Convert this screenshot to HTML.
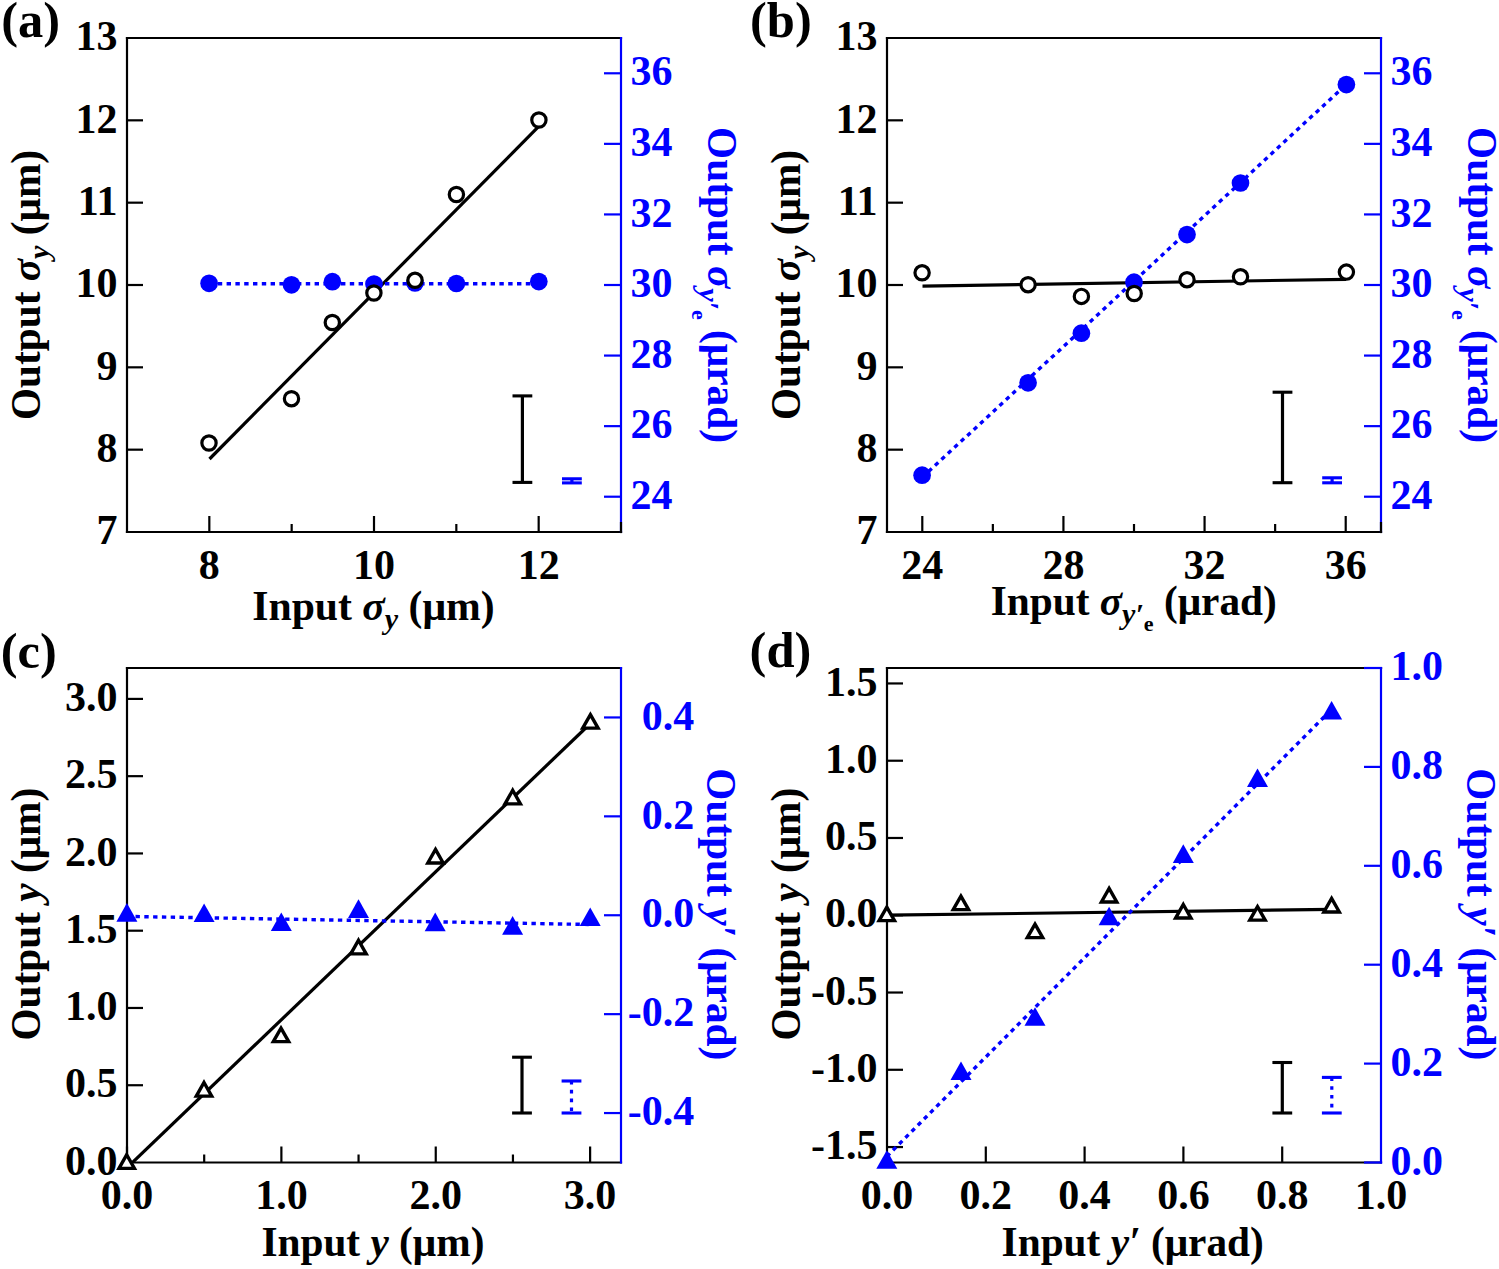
<!DOCTYPE html>
<html><head><meta charset="utf-8"><style>
html,body{margin:0;padding:0;background:#fff;overflow:hidden;}
svg{display:block;}
text{font-family:"Liberation Serif",serif;font-weight:bold;}
</style></head><body>
<svg width="1499" height="1269" viewBox="0 0 1499 1269">
<rect width="1499" height="1269" fill="#fff"/>
<line x1="209.33" y1="532" x2="209.33" y2="516" stroke="#000" stroke-width="2.2" />
<line x1="374" y1="532" x2="374" y2="516" stroke="#000" stroke-width="2.2" />
<line x1="538.67" y1="532" x2="538.67" y2="516" stroke="#000" stroke-width="2.2" />
<line x1="291.67" y1="532" x2="291.67" y2="524" stroke="#000" stroke-width="2.2" />
<line x1="456.33" y1="532" x2="456.33" y2="524" stroke="#000" stroke-width="2.2" />
<line x1="127" y1="449.67" x2="143" y2="449.67" stroke="#000" stroke-width="2.2" />
<line x1="127" y1="367.33" x2="143" y2="367.33" stroke="#000" stroke-width="2.2" />
<line x1="127" y1="285" x2="143" y2="285" stroke="#000" stroke-width="2.2" />
<line x1="127" y1="202.67" x2="143" y2="202.67" stroke="#000" stroke-width="2.2" />
<line x1="127" y1="120.33" x2="143" y2="120.33" stroke="#000" stroke-width="2.2" />
<line x1="621" y1="496.71" x2="604" y2="496.71" stroke="#0000ff" stroke-width="2.2" />
<line x1="621" y1="426.14" x2="604" y2="426.14" stroke="#0000ff" stroke-width="2.2" />
<line x1="621" y1="355.57" x2="604" y2="355.57" stroke="#0000ff" stroke-width="2.2" />
<line x1="621" y1="285" x2="604" y2="285" stroke="#0000ff" stroke-width="2.2" />
<line x1="621" y1="214.43" x2="604" y2="214.43" stroke="#0000ff" stroke-width="2.2" />
<line x1="621" y1="143.86" x2="604" y2="143.86" stroke="#0000ff" stroke-width="2.2" />
<line x1="621" y1="73.29" x2="604" y2="73.29" stroke="#0000ff" stroke-width="2.2" />
<line x1="125.9" y1="38" x2="622.1" y2="38" stroke="#000" stroke-width="2.2" />
<line x1="125.9" y1="532" x2="622.1" y2="532" stroke="#000" stroke-width="2.2" />
<line x1="127" y1="36.9" x2="127" y2="533.1" stroke="#000" stroke-width="2.2" />
<line x1="621" y1="36.9" x2="621" y2="533.1" stroke="#0000ff" stroke-width="2.2" />
<line x1="621" y1="522" x2="621" y2="533.1" stroke="#000" stroke-width="2.2" />
<text x="209.33" y="578.5" text-anchor="middle" font-size="42" fill="#000" >8</text>
<text x="374" y="578.5" text-anchor="middle" font-size="42" fill="#000" >10</text>
<text x="538.67" y="578.5" text-anchor="middle" font-size="42" fill="#000" >12</text>
<text x="117.4" y="544.2" text-anchor="end" font-size="42" fill="#000" >7</text>
<text x="117.4" y="461.87" text-anchor="end" font-size="42" fill="#000" >8</text>
<text x="117.4" y="379.53" text-anchor="end" font-size="42" fill="#000" >9</text>
<text x="117.4" y="297.2" text-anchor="end" font-size="42" fill="#000" >10</text>
<text x="117.4" y="214.87" text-anchor="end" font-size="42" fill="#000" >11</text>
<text x="117.4" y="132.53" text-anchor="end" font-size="42" fill="#000" >12</text>
<text x="117.4" y="50.2" text-anchor="end" font-size="42" fill="#000" >13</text>
<text x="630.5" y="508.91" text-anchor="start" font-size="42" fill="#0000ff" >24</text>
<text x="630.5" y="438.34" text-anchor="start" font-size="42" fill="#0000ff" >26</text>
<text x="630.5" y="367.77" text-anchor="start" font-size="42" fill="#0000ff" >28</text>
<text x="630.5" y="297.2" text-anchor="start" font-size="42" fill="#0000ff" >30</text>
<text x="630.5" y="226.63" text-anchor="start" font-size="42" fill="#0000ff" >32</text>
<text x="630.5" y="156.06" text-anchor="start" font-size="42" fill="#0000ff" >34</text>
<text x="630.5" y="85.49" text-anchor="start" font-size="42" fill="#0000ff" >36</text>
<line x1="209.5" y1="459" x2="538" y2="127.2" stroke="#000" stroke-width="3.2" stroke-linecap="butt"/>
<line x1="209" y1="283.8" x2="539" y2="283.8" stroke="#0000ff" stroke-width="3.4" stroke-dasharray="4.4 4.4"/>
<circle cx="209.1" cy="283.3" r="8.85" fill="#0000ff"/>
<circle cx="291.5" cy="284.8" r="8.85" fill="#0000ff"/>
<circle cx="332.4" cy="281.7" r="8.85" fill="#0000ff"/>
<circle cx="374" cy="284" r="8.85" fill="#0000ff"/>
<circle cx="415" cy="283" r="8.85" fill="#0000ff"/>
<circle cx="456.4" cy="283.5" r="8.85" fill="#0000ff"/>
<circle cx="538.8" cy="281.6" r="8.85" fill="#0000ff"/>
<circle cx="209" cy="443" r="7.15" fill="#fff" stroke="#000" stroke-width="3.2"/>
<circle cx="291.5" cy="398.7" r="7.15" fill="#fff" stroke="#000" stroke-width="3.2"/>
<circle cx="332.3" cy="322.5" r="7.15" fill="#fff" stroke="#000" stroke-width="3.2"/>
<circle cx="373.9" cy="293" r="7.15" fill="#fff" stroke="#000" stroke-width="3.2"/>
<circle cx="415" cy="280.3" r="7.15" fill="#fff" stroke="#000" stroke-width="3.2"/>
<circle cx="456.4" cy="194.5" r="7.15" fill="#fff" stroke="#000" stroke-width="3.2"/>
<circle cx="538.9" cy="120" r="7.15" fill="#fff" stroke="#000" stroke-width="3.2"/>
<line x1="522.4" y1="395.9" x2="522.4" y2="482.4" stroke="#000" stroke-width="3.2" />
<line x1="512.5" y1="395.9" x2="532.3" y2="395.9" stroke="#000" stroke-width="3.1" />
<line x1="512.5" y1="482.4" x2="532.3" y2="482.4" stroke="#000" stroke-width="3.1" />
<line x1="571.9" y1="478.8" x2="571.9" y2="482.9" stroke="#0000ff" stroke-width="3.2" />
<line x1="562" y1="478.8" x2="581.8" y2="478.8" stroke="#0000ff" stroke-width="3.1" />
<line x1="562" y1="482.9" x2="581.8" y2="482.9" stroke="#0000ff" stroke-width="3.1" />
<line x1="922.29" y1="532" x2="922.29" y2="516" stroke="#000" stroke-width="2.2" />
<line x1="1063.43" y1="532" x2="1063.43" y2="516" stroke="#000" stroke-width="2.2" />
<line x1="1204.57" y1="532" x2="1204.57" y2="516" stroke="#000" stroke-width="2.2" />
<line x1="1345.71" y1="532" x2="1345.71" y2="516" stroke="#000" stroke-width="2.2" />
<line x1="992.86" y1="532" x2="992.86" y2="524" stroke="#000" stroke-width="2.2" />
<line x1="1134" y1="532" x2="1134" y2="524" stroke="#000" stroke-width="2.2" />
<line x1="1275.14" y1="532" x2="1275.14" y2="524" stroke="#000" stroke-width="2.2" />
<line x1="887" y1="449.67" x2="903" y2="449.67" stroke="#000" stroke-width="2.2" />
<line x1="887" y1="367.33" x2="903" y2="367.33" stroke="#000" stroke-width="2.2" />
<line x1="887" y1="285" x2="903" y2="285" stroke="#000" stroke-width="2.2" />
<line x1="887" y1="202.67" x2="903" y2="202.67" stroke="#000" stroke-width="2.2" />
<line x1="887" y1="120.33" x2="903" y2="120.33" stroke="#000" stroke-width="2.2" />
<line x1="1381" y1="496.71" x2="1364" y2="496.71" stroke="#0000ff" stroke-width="2.2" />
<line x1="1381" y1="426.14" x2="1364" y2="426.14" stroke="#0000ff" stroke-width="2.2" />
<line x1="1381" y1="355.57" x2="1364" y2="355.57" stroke="#0000ff" stroke-width="2.2" />
<line x1="1381" y1="285" x2="1364" y2="285" stroke="#0000ff" stroke-width="2.2" />
<line x1="1381" y1="214.43" x2="1364" y2="214.43" stroke="#0000ff" stroke-width="2.2" />
<line x1="1381" y1="143.86" x2="1364" y2="143.86" stroke="#0000ff" stroke-width="2.2" />
<line x1="1381" y1="73.29" x2="1364" y2="73.29" stroke="#0000ff" stroke-width="2.2" />
<line x1="885.9" y1="38" x2="1382.1" y2="38" stroke="#000" stroke-width="2.2" />
<line x1="885.9" y1="532" x2="1382.1" y2="532" stroke="#000" stroke-width="2.2" />
<line x1="887" y1="36.9" x2="887" y2="533.1" stroke="#000" stroke-width="2.2" />
<line x1="1381" y1="36.9" x2="1381" y2="533.1" stroke="#0000ff" stroke-width="2.2" />
<line x1="1381" y1="522" x2="1381" y2="533.1" stroke="#000" stroke-width="2.2" />
<text x="922.29" y="578.5" text-anchor="middle" font-size="42" fill="#000" >24</text>
<text x="1063.43" y="578.5" text-anchor="middle" font-size="42" fill="#000" >28</text>
<text x="1204.57" y="578.5" text-anchor="middle" font-size="42" fill="#000" >32</text>
<text x="1345.71" y="578.5" text-anchor="middle" font-size="42" fill="#000" >36</text>
<text x="877.4" y="544.2" text-anchor="end" font-size="42" fill="#000" >7</text>
<text x="877.4" y="461.87" text-anchor="end" font-size="42" fill="#000" >8</text>
<text x="877.4" y="379.53" text-anchor="end" font-size="42" fill="#000" >9</text>
<text x="877.4" y="297.2" text-anchor="end" font-size="42" fill="#000" >10</text>
<text x="877.4" y="214.87" text-anchor="end" font-size="42" fill="#000" >11</text>
<text x="877.4" y="132.53" text-anchor="end" font-size="42" fill="#000" >12</text>
<text x="877.4" y="50.2" text-anchor="end" font-size="42" fill="#000" >13</text>
<text x="1390.5" y="508.91" text-anchor="start" font-size="42" fill="#0000ff" >24</text>
<text x="1390.5" y="438.34" text-anchor="start" font-size="42" fill="#0000ff" >26</text>
<text x="1390.5" y="367.77" text-anchor="start" font-size="42" fill="#0000ff" >28</text>
<text x="1390.5" y="297.2" text-anchor="start" font-size="42" fill="#0000ff" >30</text>
<text x="1390.5" y="226.63" text-anchor="start" font-size="42" fill="#0000ff" >32</text>
<text x="1390.5" y="156.06" text-anchor="start" font-size="42" fill="#0000ff" >34</text>
<text x="1390.5" y="85.49" text-anchor="start" font-size="42" fill="#0000ff" >36</text>
<line x1="922.5" y1="286.1" x2="1346" y2="279.3" stroke="#000" stroke-width="3.2" stroke-linecap="butt"/>
<line x1="922.1" y1="477.5" x2="1346.4" y2="84.3" stroke="#0000ff" stroke-width="3.4" stroke-dasharray="4.4 4.4"/>
<circle cx="922.1" cy="475.2" r="8.85" fill="#0000ff"/>
<circle cx="1028.1" cy="382.8" r="8.85" fill="#0000ff"/>
<circle cx="1081.4" cy="333.2" r="8.85" fill="#0000ff"/>
<circle cx="1134" cy="282.2" r="8.85" fill="#0000ff"/>
<circle cx="1187" cy="234.6" r="8.85" fill="#0000ff"/>
<circle cx="1240.5" cy="183" r="8.85" fill="#0000ff"/>
<circle cx="1346.4" cy="84.6" r="8.85" fill="#0000ff"/>
<circle cx="922.1" cy="272.8" r="7.15" fill="#fff" stroke="#000" stroke-width="3.2"/>
<circle cx="1028.1" cy="284.7" r="7.15" fill="#fff" stroke="#000" stroke-width="3.2"/>
<circle cx="1081.4" cy="296.4" r="7.15" fill="#fff" stroke="#000" stroke-width="3.2"/>
<circle cx="1134.2" cy="293.5" r="7.15" fill="#fff" stroke="#000" stroke-width="3.2"/>
<circle cx="1187" cy="279.7" r="7.15" fill="#fff" stroke="#000" stroke-width="3.2"/>
<circle cx="1240.5" cy="276.8" r="7.15" fill="#fff" stroke="#000" stroke-width="3.2"/>
<circle cx="1346.4" cy="272.1" r="7.15" fill="#fff" stroke="#000" stroke-width="3.2"/>
<line x1="1282.5" y1="392.2" x2="1282.5" y2="482.7" stroke="#000" stroke-width="3.2" />
<line x1="1272.6" y1="392.2" x2="1292.4" y2="392.2" stroke="#000" stroke-width="3.1" />
<line x1="1272.6" y1="482.7" x2="1292.4" y2="482.7" stroke="#000" stroke-width="3.1" />
<line x1="1332.1" y1="477.8" x2="1332.1" y2="482.8" stroke="#0000ff" stroke-width="3.2" />
<line x1="1322.2" y1="477.8" x2="1342" y2="477.8" stroke="#0000ff" stroke-width="3.1" />
<line x1="1322.2" y1="482.8" x2="1342" y2="482.8" stroke="#0000ff" stroke-width="3.1" />
<line x1="127" y1="1162.5" x2="127" y2="1146.5" stroke="#000" stroke-width="2.2" />
<line x1="281.38" y1="1162.5" x2="281.38" y2="1146.5" stroke="#000" stroke-width="2.2" />
<line x1="435.75" y1="1162.5" x2="435.75" y2="1146.5" stroke="#000" stroke-width="2.2" />
<line x1="590.12" y1="1162.5" x2="590.12" y2="1146.5" stroke="#000" stroke-width="2.2" />
<line x1="204.19" y1="1162.5" x2="204.19" y2="1154.5" stroke="#000" stroke-width="2.2" />
<line x1="358.56" y1="1162.5" x2="358.56" y2="1154.5" stroke="#000" stroke-width="2.2" />
<line x1="512.94" y1="1162.5" x2="512.94" y2="1154.5" stroke="#000" stroke-width="2.2" />
<line x1="127" y1="1085.23" x2="143" y2="1085.23" stroke="#000" stroke-width="2.2" />
<line x1="127" y1="1007.97" x2="143" y2="1007.97" stroke="#000" stroke-width="2.2" />
<line x1="127" y1="930.7" x2="143" y2="930.7" stroke="#000" stroke-width="2.2" />
<line x1="127" y1="853.44" x2="143" y2="853.44" stroke="#000" stroke-width="2.2" />
<line x1="127" y1="776.17" x2="143" y2="776.17" stroke="#000" stroke-width="2.2" />
<line x1="127" y1="698.91" x2="143" y2="698.91" stroke="#000" stroke-width="2.2" />
<line x1="621" y1="1113.05" x2="604" y2="1113.05" stroke="#0000ff" stroke-width="2.2" />
<line x1="621" y1="1014.15" x2="604" y2="1014.15" stroke="#0000ff" stroke-width="2.2" />
<line x1="621" y1="915.25" x2="604" y2="915.25" stroke="#0000ff" stroke-width="2.2" />
<line x1="621" y1="816.35" x2="604" y2="816.35" stroke="#0000ff" stroke-width="2.2" />
<line x1="621" y1="717.45" x2="604" y2="717.45" stroke="#0000ff" stroke-width="2.2" />
<line x1="125.9" y1="668" x2="622.1" y2="668" stroke="#000" stroke-width="2.2" />
<line x1="125.9" y1="1162.5" x2="622.1" y2="1162.5" stroke="#000" stroke-width="2.2" />
<line x1="127" y1="666.9" x2="127" y2="1163.6" stroke="#000" stroke-width="2.2" />
<line x1="621" y1="666.9" x2="621" y2="1163.6" stroke="#0000ff" stroke-width="2.2" />
<text x="127" y="1209" text-anchor="middle" font-size="42" fill="#000" >0.0</text>
<text x="281.38" y="1209" text-anchor="middle" font-size="42" fill="#000" >1.0</text>
<text x="435.75" y="1209" text-anchor="middle" font-size="42" fill="#000" >2.0</text>
<text x="590.12" y="1209" text-anchor="middle" font-size="42" fill="#000" >3.0</text>
<text x="117.4" y="1174.7" text-anchor="end" font-size="42" fill="#000" >0.0</text>
<text x="117.4" y="1097.43" text-anchor="end" font-size="42" fill="#000" >0.5</text>
<text x="117.4" y="1020.17" text-anchor="end" font-size="42" fill="#000" >1.0</text>
<text x="117.4" y="942.9" text-anchor="end" font-size="42" fill="#000" >1.5</text>
<text x="117.4" y="865.64" text-anchor="end" font-size="42" fill="#000" >2.0</text>
<text x="117.4" y="788.37" text-anchor="end" font-size="42" fill="#000" >2.5</text>
<text x="117.4" y="711.11" text-anchor="end" font-size="42" fill="#000" >3.0</text>
<text x="694.3" y="1125.25" text-anchor="end" font-size="42" fill="#0000ff" >-0.4</text>
<text x="694.3" y="1026.35" text-anchor="end" font-size="42" fill="#0000ff" >-0.2</text>
<text x="694.3" y="927.45" text-anchor="end" font-size="42" fill="#0000ff" >0.0</text>
<text x="694.3" y="828.55" text-anchor="end" font-size="42" fill="#0000ff" >0.2</text>
<text x="694.3" y="729.65" text-anchor="end" font-size="42" fill="#0000ff" >0.4</text>
<clipPath id="cc"><rect x="127" y="668" width="494" height="494.5"/></clipPath>
<g clip-path="url(#cc)">
<line x1="126.7" y1="1168" x2="590.4" y2="723.5" stroke="#000" stroke-width="3.2" stroke-linecap="butt"/>
</g>
<line x1="126.7" y1="916.4" x2="590.4" y2="924.5" stroke="#0000ff" stroke-width="3.4" stroke-dasharray="4.4 4.4"/>
<path d="M126.9 903.1L137.4 921.7L116.4 921.7Z" fill="#0000ff"/>
<path d="M204.1 903.5L214.6 922.1L193.6 922.1Z" fill="#0000ff"/>
<path d="M281.3 912.4L291.8 931L270.8 931Z" fill="#0000ff"/>
<path d="M358.5 899.3L369 917.9L348 917.9Z" fill="#0000ff"/>
<path d="M435.2 912.6L445.7 931.2L424.7 931.2Z" fill="#0000ff"/>
<path d="M512.6 916.1L523.1 934.7L502.1 934.7Z" fill="#0000ff"/>
<path d="M590.2 907.4L600.7 926L579.7 926Z" fill="#0000ff"/>
<path d="M126.7 1154.78L134.4 1168.38L119 1168.38Z" fill="#fff" stroke="#000" stroke-width="3.4" stroke-linejoin="miter" stroke-miterlimit="10"/>
<path d="M204 1082.48L211.7 1096.08L196.3 1096.08Z" fill="#fff" stroke="#000" stroke-width="3.4" stroke-linejoin="miter" stroke-miterlimit="10"/>
<path d="M281 1028.08L288.7 1041.67L273.3 1041.67Z" fill="#fff" stroke="#000" stroke-width="3.4" stroke-linejoin="miter" stroke-miterlimit="10"/>
<path d="M358.5 940.28L366.2 953.88L350.8 953.88Z" fill="#fff" stroke="#000" stroke-width="3.4" stroke-linejoin="miter" stroke-miterlimit="10"/>
<path d="M435.5 849.38L443.2 862.97L427.8 862.97Z" fill="#fff" stroke="#000" stroke-width="3.4" stroke-linejoin="miter" stroke-miterlimit="10"/>
<path d="M512.7 790.28L520.4 803.88L505 803.88Z" fill="#fff" stroke="#000" stroke-width="3.4" stroke-linejoin="miter" stroke-miterlimit="10"/>
<path d="M590.4 714.58L598.1 728.17L582.7 728.17Z" fill="#fff" stroke="#000" stroke-width="3.4" stroke-linejoin="miter" stroke-miterlimit="10"/>
<line x1="522" y1="1057.2" x2="522" y2="1113" stroke="#000" stroke-width="3.2" />
<line x1="512.1" y1="1057.2" x2="531.9" y2="1057.2" stroke="#000" stroke-width="3.1" />
<line x1="512.1" y1="1113" x2="531.9" y2="1113" stroke="#000" stroke-width="3.1" />
<line x1="571.5" y1="1081" x2="571.5" y2="1113" stroke="#0000ff" stroke-width="3.2" stroke-dasharray="3.6 5.2"/>
<line x1="561.6" y1="1081" x2="581.4" y2="1081" stroke="#0000ff" stroke-width="3.1" />
<line x1="561.6" y1="1113" x2="581.4" y2="1113" stroke="#0000ff" stroke-width="3.1" />
<line x1="985.8" y1="1162.5" x2="985.8" y2="1146.5" stroke="#000" stroke-width="2.2" />
<line x1="1084.6" y1="1162.5" x2="1084.6" y2="1146.5" stroke="#000" stroke-width="2.2" />
<line x1="1183.4" y1="1162.5" x2="1183.4" y2="1146.5" stroke="#000" stroke-width="2.2" />
<line x1="1282.2" y1="1162.5" x2="1282.2" y2="1146.5" stroke="#000" stroke-width="2.2" />
<line x1="887" y1="1147.05" x2="903" y2="1147.05" stroke="#000" stroke-width="2.2" />
<line x1="887" y1="1069.78" x2="903" y2="1069.78" stroke="#000" stroke-width="2.2" />
<line x1="887" y1="992.52" x2="903" y2="992.52" stroke="#000" stroke-width="2.2" />
<line x1="887" y1="915.25" x2="903" y2="915.25" stroke="#000" stroke-width="2.2" />
<line x1="887" y1="837.98" x2="903" y2="837.98" stroke="#000" stroke-width="2.2" />
<line x1="887" y1="760.72" x2="903" y2="760.72" stroke="#000" stroke-width="2.2" />
<line x1="887" y1="683.45" x2="903" y2="683.45" stroke="#000" stroke-width="2.2" />
<line x1="1381" y1="1063.6" x2="1364" y2="1063.6" stroke="#0000ff" stroke-width="2.2" />
<line x1="1381" y1="964.7" x2="1364" y2="964.7" stroke="#0000ff" stroke-width="2.2" />
<line x1="1381" y1="865.8" x2="1364" y2="865.8" stroke="#0000ff" stroke-width="2.2" />
<line x1="1381" y1="766.9" x2="1364" y2="766.9" stroke="#0000ff" stroke-width="2.2" />
<line x1="885.9" y1="668" x2="1382.1" y2="668" stroke="#000" stroke-width="2.2" />
<line x1="885.9" y1="1162.5" x2="1382.1" y2="1162.5" stroke="#000" stroke-width="2.2" />
<line x1="887" y1="666.9" x2="887" y2="1163.6" stroke="#000" stroke-width="2.2" />
<line x1="1381" y1="666.9" x2="1381" y2="1163.6" stroke="#0000ff" stroke-width="2.2" />
<line x1="1382.1" y1="1162.5" x2="1364" y2="1162.5" stroke="#0000ff" stroke-width="2.2" />
<line x1="1382.1" y1="668" x2="1364" y2="668" stroke="#0000ff" stroke-width="2.2" />
<text x="887" y="1209" text-anchor="middle" font-size="42" fill="#000" >0.0</text>
<text x="985.8" y="1209" text-anchor="middle" font-size="42" fill="#000" >0.2</text>
<text x="1084.6" y="1209" text-anchor="middle" font-size="42" fill="#000" >0.4</text>
<text x="1183.4" y="1209" text-anchor="middle" font-size="42" fill="#000" >0.6</text>
<text x="1282.2" y="1209" text-anchor="middle" font-size="42" fill="#000" >0.8</text>
<text x="1381" y="1209" text-anchor="middle" font-size="42" fill="#000" >1.0</text>
<text x="877.4" y="1159.25" text-anchor="end" font-size="42" fill="#000" >-1.5</text>
<text x="877.4" y="1081.98" text-anchor="end" font-size="42" fill="#000" >-1.0</text>
<text x="877.4" y="1004.72" text-anchor="end" font-size="42" fill="#000" >-0.5</text>
<text x="877.4" y="927.45" text-anchor="end" font-size="42" fill="#000" >0.0</text>
<text x="877.4" y="850.18" text-anchor="end" font-size="42" fill="#000" >0.5</text>
<text x="877.4" y="772.92" text-anchor="end" font-size="42" fill="#000" >1.0</text>
<text x="877.4" y="695.65" text-anchor="end" font-size="42" fill="#000" >1.5</text>
<text x="1390.5" y="1174.7" text-anchor="start" font-size="42" fill="#0000ff" >0.0</text>
<text x="1390.5" y="1075.8" text-anchor="start" font-size="42" fill="#0000ff" >0.2</text>
<text x="1390.5" y="976.9" text-anchor="start" font-size="42" fill="#0000ff" >0.4</text>
<text x="1390.5" y="878" text-anchor="start" font-size="42" fill="#0000ff" >0.6</text>
<text x="1390.5" y="779.1" text-anchor="start" font-size="42" fill="#0000ff" >0.8</text>
<text x="1390.5" y="680.2" text-anchor="start" font-size="42" fill="#0000ff" >1.0</text>
<line x1="886.8" y1="915.2" x2="1331.6" y2="909.4" stroke="#000" stroke-width="3.2" stroke-linecap="butt"/>
<line x1="886.8" y1="1156.5" x2="1331.6" y2="709.4" stroke="#0000ff" stroke-width="3.4" stroke-dasharray="4.4 4.4"/>
<path d="M886.8 1150.2L897.3 1168.8L876.3 1168.8Z" fill="#0000ff"/>
<path d="M961 1061.4L971.5 1080L950.5 1080Z" fill="#0000ff"/>
<path d="M1035 1007.2L1045.5 1025.8L1024.5 1025.8Z" fill="#0000ff"/>
<path d="M1109.1 906.7L1119.6 925.3L1098.6 925.3Z" fill="#0000ff"/>
<path d="M1183.3 844.3L1193.8 862.9L1172.8 862.9Z" fill="#0000ff"/>
<path d="M1257.5 768.5L1268 787.1L1247 787.1Z" fill="#0000ff"/>
<path d="M1331.6 701L1342.1 719.6L1321.1 719.6Z" fill="#0000ff"/>
<path d="M886.8 907.08L894.5 920.67L879.1 920.67Z" fill="#fff" stroke="#000" stroke-width="3.4" stroke-linejoin="miter" stroke-miterlimit="10"/>
<path d="M960.9 896.08L968.6 909.67L953.2 909.67Z" fill="#fff" stroke="#000" stroke-width="3.4" stroke-linejoin="miter" stroke-miterlimit="10"/>
<path d="M1035 924.08L1042.7 937.67L1027.3 937.67Z" fill="#fff" stroke="#000" stroke-width="3.4" stroke-linejoin="miter" stroke-miterlimit="10"/>
<path d="M1109.1 888.38L1116.8 901.97L1101.4 901.97Z" fill="#fff" stroke="#000" stroke-width="3.4" stroke-linejoin="miter" stroke-miterlimit="10"/>
<path d="M1183.3 904.48L1191 918.07L1175.6 918.07Z" fill="#fff" stroke="#000" stroke-width="3.4" stroke-linejoin="miter" stroke-miterlimit="10"/>
<path d="M1257.5 906.58L1265.2 920.17L1249.8 920.17Z" fill="#fff" stroke="#000" stroke-width="3.4" stroke-linejoin="miter" stroke-miterlimit="10"/>
<path d="M1331.6 898.38L1339.3 911.97L1323.9 911.97Z" fill="#fff" stroke="#000" stroke-width="3.4" stroke-linejoin="miter" stroke-miterlimit="10"/>
<line x1="1282.3" y1="1062.5" x2="1282.3" y2="1113" stroke="#000" stroke-width="3.2" />
<line x1="1272.4" y1="1062.5" x2="1292.2" y2="1062.5" stroke="#000" stroke-width="3.1" />
<line x1="1272.4" y1="1113" x2="1292.2" y2="1113" stroke="#000" stroke-width="3.1" />
<line x1="1331.8" y1="1077.4" x2="1331.8" y2="1113" stroke="#0000ff" stroke-width="3.2" stroke-dasharray="3.6 5.2"/>
<line x1="1321.9" y1="1077.4" x2="1341.7" y2="1077.4" stroke="#0000ff" stroke-width="3.1" />
<line x1="1321.9" y1="1113" x2="1341.7" y2="1113" stroke="#0000ff" stroke-width="3.1" />
<text x="1.2" y="36.5" text-anchor="start" font-size="50.5" fill="#000" >(a)</text>
<text x="750" y="36.5" text-anchor="start" font-size="50.5" fill="#000" >(b)</text>
<text x="0.7" y="667.6" text-anchor="start" font-size="50.5" fill="#000" >(c)</text>
<text x="749.6" y="667.2" text-anchor="start" font-size="50.5" fill="#000" >(d)</text>
<text x="373.5" y="619.7" text-anchor="middle" font-size="41.7" fill="#000" >Input <tspan font-style="italic">σ</tspan><tspan font-size="30" dy="9" font-style="italic">y</tspan><tspan dy="-9"> (μm)</tspan></text>
<text x="1133.8" y="615.2" text-anchor="middle" font-size="41.3" fill="#000" >Input <tspan font-style="italic">σ</tspan><tspan font-size="30" dy="9" font-style="italic">y′</tspan><tspan font-size="22" dy="7">e</tspan><tspan dy="-16"> (μrad)</tspan></text>
<text x="372.9" y="1256" text-anchor="middle" font-size="41.3" fill="#000" >Input <tspan font-style="italic">y</tspan> (μm)</text>
<text x="1132.7" y="1256" text-anchor="middle" font-size="41.3" fill="#000" >Input <tspan font-style="italic">y′</tspan> (μrad)</text>
<text x="0" y="0" text-anchor="middle" font-size="41.3" transform="translate(39.7,285) rotate(-90)">Output <tspan font-style="italic">σ</tspan><tspan font-size="30" dy="9" font-style="italic">y</tspan><tspan dy="-9"> (μm)</tspan></text>
<text x="0" y="0" text-anchor="middle" font-size="41.3" transform="translate(799.7,285) rotate(-90)">Output <tspan font-style="italic">σ</tspan><tspan font-size="30" dy="9" font-style="italic">y</tspan><tspan dy="-9"> (μm)</tspan></text>
<text x="0" y="0" text-anchor="middle" font-size="41.3" fill="#0000ff" transform="translate(708,285) rotate(90)">Output <tspan font-style="italic">σ</tspan><tspan font-size="30" dy="9" font-style="italic">y′</tspan><tspan font-size="22" dy="7">e</tspan><tspan dy="-16"> (μrad)</tspan></text>
<text x="0" y="0" text-anchor="middle" font-size="41.3" fill="#0000ff" transform="translate(1468,285) rotate(90)">Output <tspan font-style="italic">σ</tspan><tspan font-size="30" dy="9" font-style="italic">y′</tspan><tspan font-size="22" dy="7">e</tspan><tspan dy="-16"> (μrad)</tspan></text>
<text x="0" y="0" text-anchor="middle" font-size="41.3" transform="translate(39.7,914.15) rotate(-90)">Output <tspan font-style="italic">y</tspan> (μm)</text>
<text x="0" y="0" text-anchor="middle" font-size="41.3" transform="translate(799.7,914.15) rotate(-90)">Output <tspan font-style="italic">y</tspan> (μm)</text>
<text x="0" y="0" text-anchor="middle" font-size="41.3" fill="#0000ff" transform="translate(706.8,914.3) rotate(90)">Output <tspan font-style="italic">y′</tspan> (μrad)</text>
<text x="0" y="0" text-anchor="middle" font-size="41.3" fill="#0000ff" transform="translate(1466.8,914.3) rotate(90)">Output <tspan font-style="italic">y′</tspan> (μrad)</text>
</svg>
</body></html>
